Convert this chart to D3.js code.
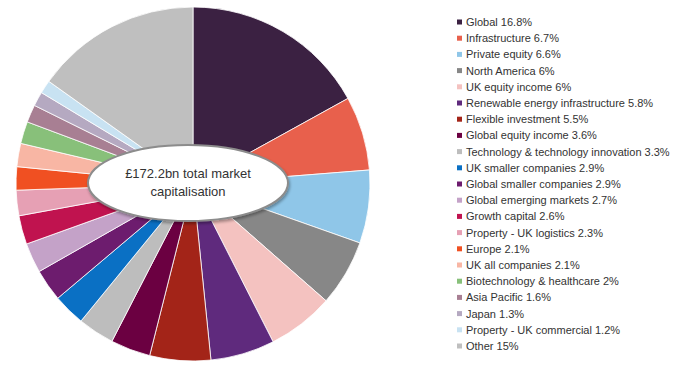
<!DOCTYPE html>
<html>
<head>
<meta charset="utf-8">
<script src="https://cdn.jsdelivr.net/npm/d3@7"></script>
<style>
  body { margin: 0; background: #fff; }
  svg { font-family: "Liberation Sans", Arial, sans-serif; }
</style>
</head>
<body>
<div id="container"></div>
<script>
// categories and shares (%) as in the legend
const categories = ["Global", "Infrastructure", "Private equity", "North America", "UK equity income",
  "Renewable energy infrastructure", "Flexible investment", "Global equity income",
  "Technology & technology innovation", "UK smaller companies", "Global smaller companies",
  "Global emerging markets", "Growth capital", "Property - UK logistics", "Europe",
  "UK all companies", "Biotechnology & healthcare", "Asia Pacific", "Japan",
  "Property - UK commercial", "Other"];
const shares = [16.8, 6.7, 6.6, 6, 6, 5.8, 5.5, 3.6, 3.3, 2.9, 2.9, 2.7, 2.6, 2.3, 2.1, 2.1, 2, 1.6, 1.3, 1.2, 15];
const colours = ["#3b2142", "#e8604c", "#8fc6e8", "#878787", "#f4c2c0", "#5f2a7d", "#a32418", "#6b0041",
  "#bdbdbd", "#0a70c4", "#6d1c6e", "#c4a2c8", "#c0134f", "#e6a0b4", "#f05022", "#f8b6a4",
  "#88c07a", "#a87f93", "#b5a9c1", "#c8e2f2", "#bfbfbf"];
const centreText = ["£172.2bn total market", "capitalisation"];

const w = 680, h = 369;
const cx = 193, cy = 184, r = 177;

const data = categories.map((c, i) => ({ name: c, value: shares[i], colour: colours[i] }));

const svg = d3.select("#container").append("svg")
  .attr("width", w)
  .attr("height", h);

const pie = d3.pie().value(d => d.value).sort(null);
const arc = d3.arc().innerRadius(0).outerRadius(r);

const g = svg.append("g").attr("transform", "translate(" + cx + "," + cy + ")");

g.selectAll("path")
  .data(pie(data))
  .enter()
  .append("path")
  .attr("d", arc)
  .attr("fill", d => d.data.colour)
  .attr("stroke", "#fff")
  .attr("stroke-width", 0.8);

// centre label ellipse with a soft shadow
const defs = svg.append("defs");
const f = defs.append("filter").attr("id", "shadow").attr("x", "-20%").attr("y", "-30%").attr("width", "140%").attr("height", "160%");
f.append("feGaussianBlur").attr("in", "SourceAlpha").attr("stdDeviation", 1.5);
f.append("feOffset").attr("dx", 1).attr("dy", 1.5).attr("result", "blur");
f.append("feComponentTransfer").append("feFuncA").attr("type", "linear").attr("slope", 0.35);
const merge = f.append("feMerge");
merge.append("feMergeNode");
merge.append("feMergeNode").attr("in", "SourceGraphic");

svg.append("ellipse")
  .attr("cx", 188)
  .attr("cy", 183)
  .attr("rx", 100)
  .attr("ry", 38)
  .attr("fill", "#fff")
  .attr("stroke", "#8c8c8c")
  .attr("stroke-width", 2)
  .attr("filter", "url(#shadow)");

svg.selectAll(".centre")
  .data(centreText)
  .enter()
  .append("text")
  .attr("class", "centre")
  .attr("x", 188)
  .attr("y", (d, i) => 178 + i * 18)
  .attr("text-anchor", "middle")
  .attr("font-size", "13px")
  .attr("fill", "#333")
  .text(d => d);

// legend
const ly = d3.scaleLinear().domain([0, categories.length - 1]).range([22, 346]);

const legend = svg.selectAll(".legend")
  .data(data)
  .enter()
  .append("g")
  .attr("class", "legend")
  .attr("transform", (d, i) => "translate(457," + ly(i) + ")");

legend.append("rect")
  .attr("x", 0)
  .attr("y", -2.5)
  .attr("width", 5)
  .attr("height", 5)
  .attr("fill", d => d.colour);

legend.append("text")
  .attr("x", 9)
  .attr("y", 4)
  .attr("font-size", "11px")
  .attr("fill", "#333")
  .text(d => d.name + " " + d.value + "%");
</script>
</body>
</html>
